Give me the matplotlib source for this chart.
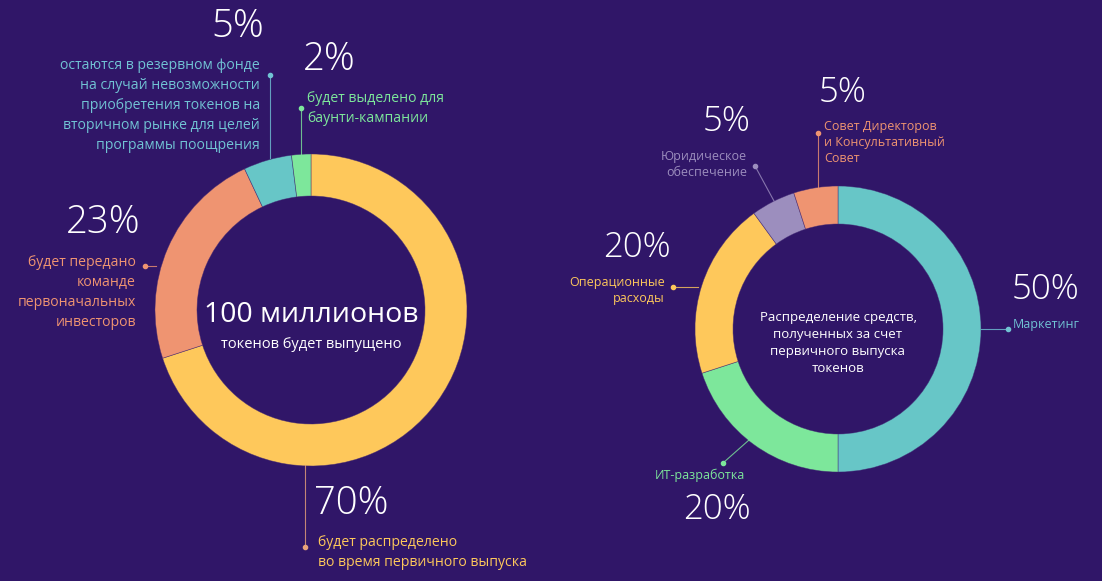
import matplotlib
matplotlib.use("Agg")
import matplotlib.pyplot as plt

plt.rcParams['font.family'] = ['Open Sans', 'DejaVu Sans']

# --- data ---
W, H = 1102, 581
BG = '#301668'

token_labels = ['будет распределено\nво время первичного выпуска',
                'будет передано\nкоманде\nпервоначальных\nинвесторов',
                'остаются в резервном фонде\nна случай невозможности\nприобретения токенов на\nвторичном рынке для целей\nпрограммы поощрения',
                'будет выделено для\nбаунти-кампании']
token_values = [70, 23, 5, 2]
token_colors = ['#fec85b', '#ef9471', '#67c6c7', '#7de79b']

fund_labels = ['Маркетинг', 'ИТ-разработка', 'Операционные\nрасходы',
               'Юридическое\nобеспечение', 'Совет Директоров\nи Консультативный\nСовет']
fund_values = [50, 20, 20, 5, 5]
fund_colors = ['#67c6c7', '#7de79b', '#fec85b', '#9c8ebe', '#ef9471']

fig = plt.figure(figsize=(W / 100, H / 100), dpi=100, facecolor=BG)
ax = fig.add_axes([0, 0, 1, 1])
ax.set_facecolor(BG)


def Y(y):
    # pixel row (from top) -> data y
    return H - y


edge = dict(edgecolor=(0.25, 0.15, 0.45, 0.6), linewidth=0.5)

# left donut
ax.pie(token_values, colors=token_colors, startangle=90, counterclock=False,
       radius=156, center=(311, Y(310)), wedgeprops=dict(width=42, **edge))
# right donut
ax.pie(fund_values, colors=fund_colors, startangle=90, counterclock=False,
       radius=143, center=(838, Y(329)), wedgeprops=dict(width=38, **edge))

ax.set_xlim(0, W)
ax.set_ylim(0, H)
ax.set_aspect('equal')
ax.axis('off')


def pct(x, y, v, size):
    ax.text(x, Y(y), f'{v}%', color='white', fontsize=size, ha='center',
            va='center', fontweight='light')


def label(x, y, s, color, ha, size, ls=1.45):
    ax.text(x, Y(y), s, color=color, fontsize=size, ha=ha, va='top',
            multialignment=ha, linespacing=ls)


def leader(pts, color):
    xs = [p[0] for p in pts]
    ys = [Y(p[1]) for p in pts]
    ax.plot(xs, ys, color=color, lw=0.8, alpha=0.8)
    ax.plot(xs[0], ys[0], 'o', color=color, ms=3)


# left chart texts
pct(351, 504, token_values[0], 27.5)
label(318, 535, token_labels[0], token_colors[0], 'left', 10.1)
leader([(305, 547), (305, 465)], '#e9a27a')

pct(103, 223, token_values[1], 27.5)
label(136, 255, token_labels[1], token_colors[1], 'right', 10.1)
leader([(145, 266), (156, 266)], token_colors[1])

pct(238, 27, token_values[2], 27.5)
label(260, 58, token_labels[2], '#71c3d4', 'right', 10.1)
leader([(270, 75), (270, 158)], '#71c3d4')

pct(329, 60, token_values[3], 27.5)
label(307, 91, token_labels[3], token_colors[3], 'left', 10.1)
leader([(301, 108), (301, 157)], token_colors[3])

ax.text(311, Y(315), '100 миллионов', color='white', fontsize=20.5,
        ha='center', va='center')
ax.text(311, Y(344), 'токенов будет выпущено', color='white', fontsize=10.5,
        ha='center', va='center')

# right chart texts
pct(1045, 290, fund_values[0], 25)
label(1013, 318, fund_labels[0], '#71c3d4', 'left', 9)
leader([(1008, 329), (981, 329)], '#71c3d4')

pct(717, 510, fund_values[1], 25)
label(700, 469, fund_labels[1], fund_colors[1], 'center', 9)
leader([(723, 463), (749, 440)], fund_colors[1])

pct(637, 248, fund_values[2], 25)
label(665, 276, fund_labels[2], fund_colors[2], 'right', 9, ls=1.3)
leader([(673, 287), (698, 287)], fund_colors[2])

pct(727, 122, fund_values[3], 25)
label(747, 150, fund_labels[3], fund_colors[3], 'right', 9, ls=1.3)
leader([(755, 166), (774, 201)], fund_colors[3])

pct(843, 93, fund_values[4], 25)
label(824, 120, fund_labels[4], fund_colors[4], 'left', 9, ls=1.3)
leader([(818, 133), (818, 187)], fund_colors[4])

ax.text(838, Y(343), 'Распределение средств,\nполученных за счет\nпервичного выпуска\nтокенов',
        color='white', fontsize=9.5, ha='center', va='center', linespacing=1.4)

fig.savefig('out.png', dpi=100, facecolor=BG)
